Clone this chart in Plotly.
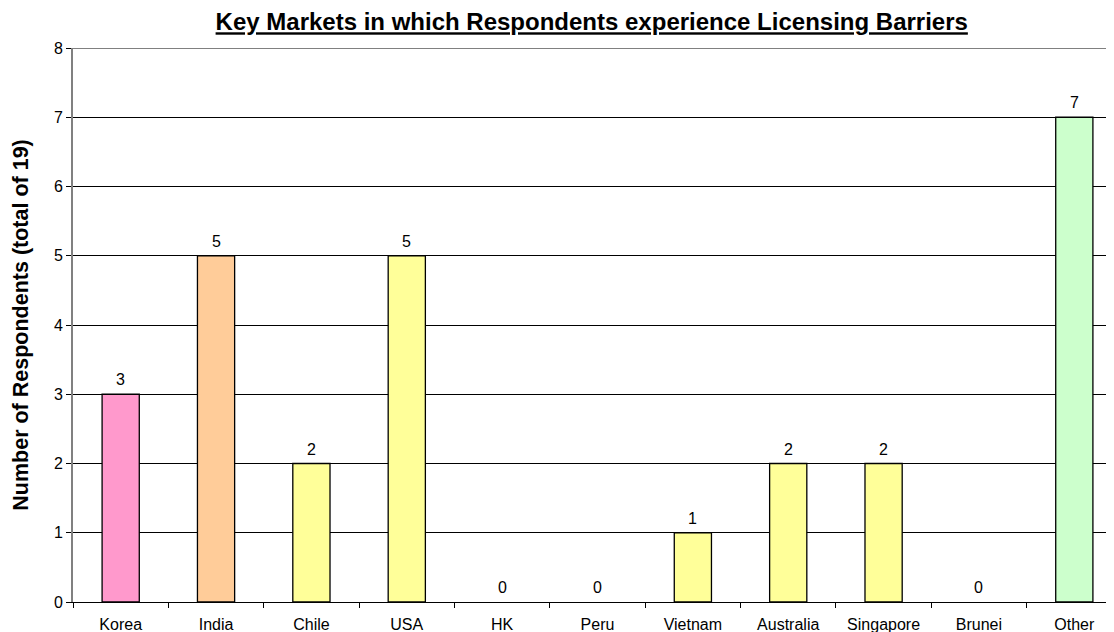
import plotly.graph_objects as go

categories = ["Korea", "India", "Chile", "USA", "HK", "Peru", "Vietnam", "Australia", "Singapore", "Brunei", "Other"]
values = [3, 5, 2, 5, 0, 0, 1, 2, 2, 0, 7]
bar_colors = ["#FF99CC", "#FFCC99", "#FFFF99", "#FFFF99", "#FFFF99", "#FFFF99",
              "#FFFF99", "#FFFF99", "#FFFF99", "#FFFF99", "#CCFFCC"]
y_ticks = [0, 1, 2, 3, 4, 5, 6, 7, 8]

FONT = "Liberation Sans, Arial, sans-serif"

fig = go.Figure(go.Bar(
    x=categories, y=values,
    marker=dict(color=bar_colors,
                line=dict(color="#000000", width=[1.3 if v > 0 else 0 for v in values])),
    cliponaxis=False, width=0.39,
))

for c, v in zip(categories, values):
    fig.add_annotation(x=c, y=v, xref="x", yref="y", text=str(v), showarrow=False,
                       yanchor="bottom", yshift=4,
                       font=dict(family=FONT, size=16, color="#000000"))

fig.update_layout(
    width=1114, height=632,
    margin=dict(l=65, r=0, t=40, b=38),
    paper_bgcolor="white", plot_bgcolor="white",
    showlegend=False,
    font=dict(family=FONT, size=16, color="#000000"),
    title=dict(text="<b><u>Key Markets in which Respondents experience Licensing Barriers</u></b>",
               x=0.524, xanchor="center", y=0.978, yanchor="middle",
               font=dict(family=FONT, size=24, color="#000000")),
    xaxis=dict(range=[-0.5, 10.5], tickson="boundaries", ticks="outside", ticklen=5,
               tickcolor="#000000", showline=True, linecolor="#000000", linewidth=1.3,
               showgrid=False, tickfont=dict(family=FONT, size=16), ticklabelstandoff=8),
    yaxis=dict(range=[0, 8], tickvals=y_ticks, ticks="outside", ticklen=5, tickcolor="#000000",
               showline=True, linecolor="#808080", linewidth=2,
               showgrid=True, gridcolor="#000000", gridwidth=1, zeroline=False,
               tickfont=dict(family=FONT, size=16),
               title=dict(text="<b>Number of Respondents (total of 19)</b>",
                          font=dict(family=FONT, size=21.5), standoff=19)),
)
fig.add_shape(type="line", xref="paper", yref="y", x0=0, x1=1, y0=8, y1=8,
              line=dict(color="#808080", width=2))

fig.write_html("out.html")
